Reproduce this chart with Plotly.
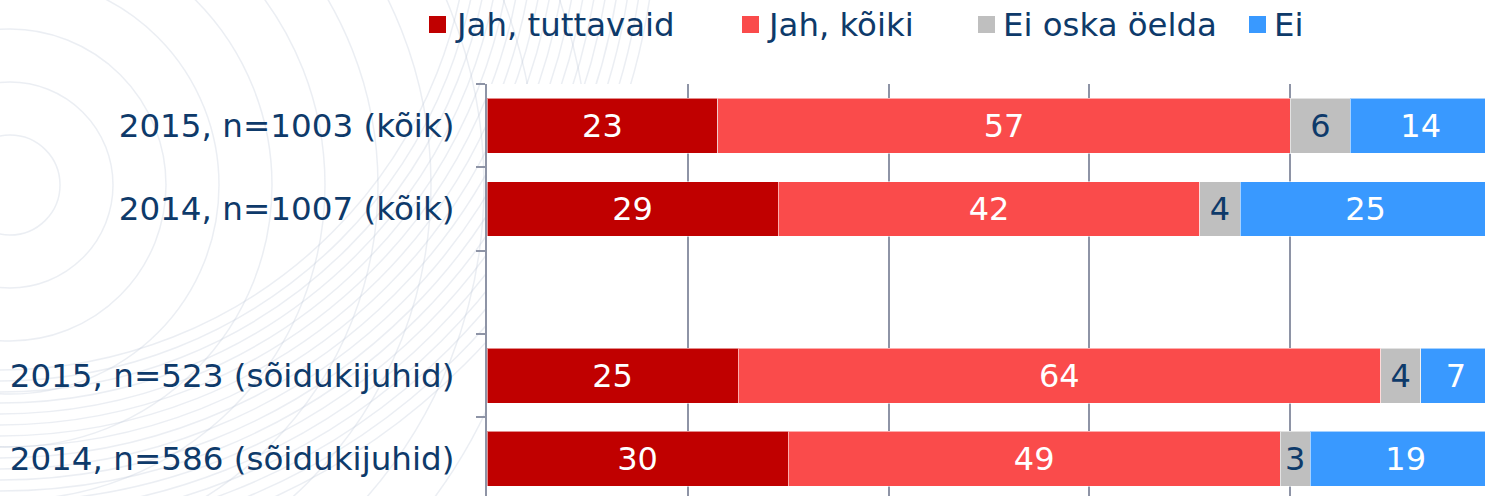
import plotly.graph_objects as go

# Survey groups (top to bottom); the blank entry is the empty spacer row
groups = [
    "2015, n=1003 (kõik)",
    "2014, n=1007 (kõik)",
    "",
    "2015, n=523 (sõidukijuhid)",
    "2014, n=586 (sõidukijuhid)",
]
row_pos = [0, 1, 2, 3, 4]

series_names = ["Jah, tuttavaid", "Jah, kõiki", "Ei oska öelda", "Ei"]
jah_tuttavaid = [23, 29, None, 25, 30]
jah_koiki = [57, 42, None, 64, 49]
ei_oska = [6, 4, None, 4, 3]
ei = [14, 25, None, 7, 19]

colors = ["#C00000", "#FA4B4B", "#BFBFBF", "#3999FF"]
label_colors = ["white", "white", "#0E3A6A", "white"]

NAVY = "#0E3A6A"
GRID = "#8E94A6"
FONT = "DejaVu Sans, Verdana, sans-serif"

W, H = 1485, 496
ML, MT = 487, 84
PW, PH = W - ML, H - MT
PX_PER_PCT = 10.04
SLOT = 83.33


def px_to_paper(px, py):
    return (px - ML) / PW, (H - py) / PH


fig = go.Figure()

for name, vals, col, tcol in zip(series_names, [jah_tuttavaid, jah_koiki, ei_oska, ei],
                                 colors, label_colors):
    fig.add_trace(go.Bar(
        y=row_pos, x=vals, name=name, orientation="h",
        width=0.66,
        marker=dict(color=col, line=dict(color="rgba(255,255,255,0.55)", width=1)),
        text=[("" if v is None else str(v)) for v in vals],
        textposition="inside", insidetextanchor="middle", textangle=0,
        textfont=dict(family=FONT, size=32, color=tcol),
        showlegend=False, hoverinfo="skip",
    ))

shapes = []

# faint decorative rings in the background
rings_a = [(10, 185, r) for r in range(50, 600, 53)]
rings_b = [(0, -100, r) for r in range(470, 660, 11)]
for cx, cy, r in rings_a + rings_b:
    ax_, ay_ = px_to_paper(cx, cy)
    shapes.append(dict(
        type="circle", xref="paper", yref="paper",
        xsizemode="pixel", ysizemode="pixel", xanchor=ax_, yanchor=ay_,
        x0=-r, x1=r, y0=-r, y1=r,
        line=dict(color="rgba(190,198,214,0.30)", width=1.5), layer="below",
    ))
# plot area fill over the rings
shapes.append(dict(type="rect", xref="paper", yref="paper", x0=0, x1=1, y0=0, y1=1,
                   fillcolor="white", line=dict(width=0), layer="below"))

# legend
legend_marker_px = [429, 742, 978, 1249]
legend_text_px = [455, 767, 1003, 1274]
annotations = []
for name, col, mx, tx in zip(series_names, colors, legend_marker_px, legend_text_px):
    x0, y0 = px_to_paper(mx, 33)
    x1, y1 = px_to_paper(mx + 17, 16)
    shapes.append(dict(type="rect", xref="paper", yref="paper", x0=x0, x1=x1, y0=y0, y1=y1,
                       fillcolor=col, line=dict(width=0)))
    ax_, ay_ = px_to_paper(tx - 2, 25)
    annotations.append(dict(
        x=ax_, y=ay_, xref="paper", yref="paper", xanchor="left", yanchor="middle",
        text=name, showarrow=False, font=dict(family=FONT, size=32.4, color=NAVY),
    ))

fig.update_layout(
    width=W, height=H,
    margin=dict(l=ML, r=0, t=MT, b=0, pad=0),
    paper_bgcolor="white", plot_bgcolor="white",
    barmode="stack", bargap=0.34,
    font=dict(family=FONT, size=32, color=NAVY),
    uniformtext=dict(minsize=32, mode="show"),
    shapes=shapes, annotations=annotations,
    xaxis=dict(
        range=[0, PW / PX_PER_PCT], showticklabels=False, ticks="",
        tickvals=[20, 40, 60, 80], showgrid=True, gridcolor=GRID, gridwidth=2,
        zeroline=False, showline=False, fixedrange=True,
    ),
    yaxis=dict(
        range=[-0.5 + PH / SLOT, -0.5],
        tickmode="array", tickvals=[0, 1, 3, 4],
        ticktext=[groups[i] for i in [0, 1, 3, 4]],
        ticks="", ticklabelstandoff=24,
        tickfont=dict(family=FONT, size=32.6, color=NAVY),
        showgrid=False, zeroline=False,
        showline=True, linecolor=GRID, linewidth=2,
        minor=dict(tickmode="array", tickvals=[-0.5, 0.5, 1.5, 2.5, 3.5, 4.5],
                   ticks="outside", ticklen=9, tickwidth=2, tickcolor=GRID, showgrid=False),
        fixedrange=True,
    ),
)

fig.write_html("out.html", config={"displayModeBar": False})
